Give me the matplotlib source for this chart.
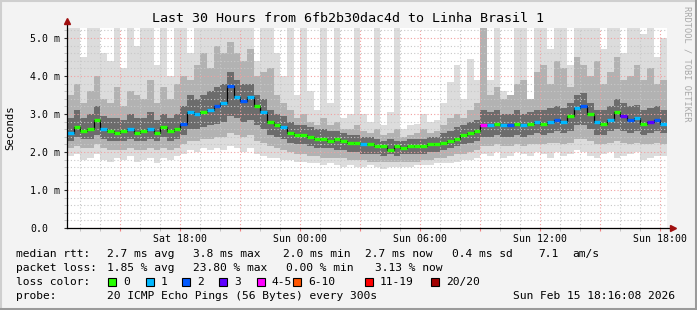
import matplotlib
matplotlib.use("Agg")
import matplotlib.pyplot as plt
import numpy as np
from matplotlib.patches import Rectangle
from matplotlib.lines import Line2D

# 20-minute columns, Sat 12:21 .. Sun 18:21 (hours since Sat 00:00)
start_hour = 12.35
step_hours = 1.0 / 3.0

# median rtt (ms)
median = [2.50, 2.65, 2.55, 2.60, 2.85, 2.60, 2.55, 2.50, 2.55, 2.60,
          2.50, 2.55, 2.60, 2.50, 2.65, 2.55, 2.60, 2.75, 3.05, 3.00,
          3.05, 3.10, 3.20, 3.30, 3.75, 3.45, 3.35, 3.45, 3.20, 3.05,
          2.80, 2.70, 2.65, 2.50, 2.45, 2.45, 2.40, 2.35, 2.35, 2.30,
          2.35, 2.30, 2.25, 2.25, 2.20, 2.20, 2.15, 2.15, 2.05, 2.15,
          2.10, 2.15, 2.15, 2.15, 2.20, 2.20, 2.25, 2.30, 2.35, 2.45,
          2.50, 2.55, 2.70, 2.70, 2.75, 2.70, 2.70, 2.75, 2.70, 2.75,
          2.80, 2.75, 2.80, 2.85, 2.80, 2.95, 3.15, 3.20, 3.00, 2.80,
          2.75, 2.85, 3.05, 2.95, 2.85, 2.90, 2.75, 2.80, 2.85, 2.75]

# lost pings out of 20
loss = [1, 0, 0, 0, 0, 1, 0, 0, 0, 1,
        0, 0, 1, 0, 0, 0, 0, 2, 1, 1,
        0, 1, 2, 1, 2, 1, 2, 1, 0, 1,
        0, 0, 1, 0, 0, 0, 0, 0, 0, 0,
        0, 0, 0, 0, 1, 0, 0, 0, 0, 0,
        0, 0, 0, 0, 0, 0, 0, 0, 0, 0,
        0, 0, 4, 1, 0, 1, 2, 0, 1, 0,
        1, 0, 1, 2, 1, 0, 1, 2, 0, 1,
        0, 1, 0, 3, 2, 1, 0, 3, 2, 1]

# smoke: sorted ping distribution per column (ms)
smoke_max = [5.5, 5.5, 4.5, 5.5, 5.5, 4.6, 4.4, 5.5, 4.2, 5.5,
             4.8, 5.5, 5.5, 4.3, 5.5, 4.0, 5.5,
             5.5, 4.6, 5.5, 5.5, 5.5, 5.5, 5.5, 5.5, 5.5, 5.5,
             5.5, 4.4, 5.5, 5.5, 4.6, 4.0,
             5.5, 3.5, 5.5, 3.6, 3.1, 5.5, 3.3, 5.5, 2.9, 3.0,
             5.5, 3.0, 2.8, 5.5, 2.7, 3.05, 5.5, 2.6, 2.7, 2.75,
             3.0, 2.8, 2.85, 3.3, 3.85, 4.3, 3.4, 4.45,
             3.9, 5.5, 3.9, 5.5, 3.6, 3.5, 5.5, 5.5, 3.4, 5.5,
             5.5, 4.7, 5.5, 5.5, 4.3, 5.5, 5.5, 5.5, 5.5, 4.7,
             5.5, 5.5, 4.6, 5.5, 5.5, 5.1, 5.5, 4.5, 5.0]
smoke_q90 = [3.5, 3.8, 3.3, 3.6, 4.0, 3.4, 3.3, 3.7, 3.2, 3.6,
             3.5, 3.4, 3.9, 3.3, 3.7, 3.4, 3.8,
             4.0, 3.9, 4.3, 4.6, 4.2, 4.8, 4.6, 4.9, 4.6, 4.4,
             4.7, 4.0, 4.1, 4.2, 3.5, 3.3,
             3.1, 2.9, 3.0, 2.8, 2.7, 2.9, 2.7, 2.8, 2.6, 2.6,
             2.7, 2.55, 2.5, 2.6, 2.45, 2.5, 2.6, 2.4, 2.45, 2.5,
             2.6, 2.5, 2.55, 2.7, 2.9, 3.0, 2.9, 3.1,
             3.3, 5.5, 3.5, 3.7, 3.4, 3.5, 3.8, 3.9, 3.4, 4.1,
             4.3, 3.8, 4.4, 4.2, 3.7, 4.5, 4.3, 4.0, 4.4, 3.8,
             4.1, 4.5, 3.9, 4.0, 4.3, 3.9, 4.2, 3.8, 3.9]
smoke_q75 = [2.9, 3.1, 2.9, 3.0, 3.2, 2.95, 2.9, 2.9, 2.85, 3.0,
             2.9, 2.9, 3.05, 2.85, 3.0, 2.9, 3.0,
             3.2, 3.5, 3.4, 3.5, 3.6, 3.7, 3.8, 4.1, 3.9, 3.8,
             3.8, 3.5, 3.4, 3.1, 3.0, 2.95,
             2.8, 2.7, 2.7, 2.65, 2.6, 2.6, 2.55, 2.55, 2.5, 2.45,
             2.45, 2.4, 2.4, 2.35, 2.3, 2.35, 2.3, 2.3, 2.35, 2.35,
             2.35, 2.4, 2.4, 2.5, 2.55, 2.65, 2.7, 2.8,
             2.85, 3.1, 3.05, 3.1, 3.0, 3.0, 3.1, 3.0, 3.05, 3.1,
             3.1, 3.15, 3.2, 3.15, 3.3, 3.5, 3.55, 3.3, 3.1, 3.1,
             3.2, 3.4, 3.3, 3.2, 3.25, 3.1, 3.15, 3.2, 3.1]
smoke_q25 = [2.3, 2.4, 2.35, 2.35, 2.45, 2.35, 2.3, 2.3, 2.3, 2.35,
             2.3, 2.3, 2.35, 2.3, 2.4, 2.3, 2.35,
             2.45, 2.6, 2.6, 2.65, 2.7, 2.75, 2.8, 2.95, 2.9, 2.8,
             2.85, 2.7, 2.6, 2.45, 2.4, 2.35,
             2.25, 2.2, 2.2, 2.15, 2.1, 2.1, 2.1, 2.05, 2.05, 2.0,
             2.0, 1.95, 1.95, 1.95, 1.9, 1.95, 1.9, 1.95, 1.95, 1.95,
             1.95, 2.0, 2.0, 2.05, 2.1, 2.15, 2.2, 2.25,
             2.3, 2.4, 2.4, 2.45, 2.4, 2.4, 2.45, 2.4, 2.45, 2.5,
             2.45, 2.5, 2.55, 2.5, 2.55, 2.7, 2.7, 2.6, 2.45, 2.45,
             2.55, 2.6, 2.55, 2.5, 2.55, 2.45, 2.5, 2.55, 2.5]
smoke_q10 = [2.1, 2.15, 2.1, 2.1, 2.2, 2.1, 2.05, 2.05, 2.05, 2.1,
             2.05, 2.05, 2.1, 2.05, 2.1, 2.05, 2.1,
             2.2, 2.3, 2.3, 2.35, 2.35, 2.4, 2.4, 2.5, 2.45, 2.4,
             2.45, 2.3, 2.25, 2.15, 2.1, 2.05,
             2.0, 1.95, 1.95, 1.9, 1.9, 1.85, 1.85, 1.85, 1.85, 1.8,
             1.8, 1.8, 1.75, 1.75, 1.75, 1.75, 1.75, 1.75, 1.75, 1.75,
             1.8, 1.8, 1.85, 1.85, 1.9, 1.95, 1.95, 2.0,
             2.05, 2.15, 2.15, 2.2, 2.15, 2.15, 2.2, 2.15, 2.2, 2.2,
             2.2, 2.25, 2.25, 2.2, 2.25, 2.35, 2.35, 2.3, 2.2, 2.2,
             2.25, 2.3, 2.25, 2.2, 2.25, 2.2, 2.2, 2.25, 2.2]
smoke_min = [1.9, 1.95, 1.8, 1.85, 1.95, 1.8, 1.75, 1.85, 1.8, 1.9,
             1.75, 1.8, 1.85, 1.7, 1.85, 1.8, 1.9,
             1.95, 2.05, 2.0, 2.1, 2.05, 2.1, 2.05, 2.15, 2.1, 2.0,
             2.1, 1.95, 1.9, 1.85, 1.85, 1.8,
             1.8, 1.75, 1.75, 1.7, 1.7, 1.65, 1.7, 1.65, 1.6, 1.65,
             1.6, 1.6, 1.65, 1.6, 1.55, 1.6, 1.6, 1.6, 1.6, 1.65,
             1.65, 1.65, 1.7, 1.7, 1.7, 1.75, 1.8, 1.8,
             1.85, 1.95, 1.9, 2.0, 1.85, 1.9, 2.0, 1.95, 1.9, 2.0,
             1.95, 1.85, 2.0, 1.9, 1.95, 2.05, 2.0, 1.9, 1.85, 1.95,
             2.0, 1.85, 1.9, 1.95, 2.0, 1.8, 1.85, 1.9, 1.9]

loss_bins = [(0, "0", "#26ff00"), (1, "1", "#00b8ff"), (2, "2", "#0059ff"),
             (3, "3", "#5e00ff"), (5, "4-5", "#ff00ff"), (10, "6-10", "#ff5500"),
             (19, "11-19", "#ff0000"), (20, "20/20", "#a00000")]

x_tick_hours = [15, 18, 21, 24, 27, 30, 33, 36, 39, 42]
x_tick_labels = ["", "Sat 18:00", "", "Sun 00:00", "", "Sun 06:00",
                 "", "Sun 12:00", "", "Sun 18:00"]
y_ticks = [0, 1, 2, 3, 4, 5]
y_tick_labels = ["0.0", "1.0 m", "2.0 m", "3.0 m", "4.0 m", "5.0 m"]

n = len(median)
for arr in (loss, smoke_max, smoke_q90, smoke_q75, smoke_q25, smoke_q10, smoke_min):
    assert len(arr) == n, len(arr)

W, H = 697, 310
MONO = "DejaVu Sans Mono"
fig = plt.figure(figsize=(W / 100, H / 100), dpi=100, facecolor="#f3f3f3")


def fx(x):
    return x / W


def fy(y):
    return 1 - y / H


ax = fig.add_axes([fx(67), fy(228), 600 / W, 200 / H])
ax.set_facecolor("white")

edges = start_hour + np.arange(n + 1) * step_hours

# smoke layers
ax.stairs(smoke_max, edges, baseline=smoke_min, fill=True, color="#dcdcdc", lw=0, zorder=1)
ax.stairs(smoke_q90, edges, baseline=smoke_q10, fill=True, color="#b2b2b2", lw=0, zorder=1.1)
ax.stairs(smoke_q75, edges, baseline=smoke_q25, fill=True, color="#6c6c6c", lw=0, zorder=1.2)


# median line coloured by loss
def loss_color(v):
    for lim, _, c in loss_bins:
        if v <= lim:
            return c
    return loss_bins[-1][2]


ax.stairs(median, edges, baseline=None, color="black", lw=0.9, zorder=3)
ax.hlines(median, edges[:-1], edges[1:], colors=[loss_color(v) for v in loss],
          lw=2.4, zorder=4)

ax.set_xlim(start_hour, start_hour + 30)
ax.set_ylim(0, 200 / 38)

ax.set_xticks(x_tick_hours)
ax.set_xticklabels(x_tick_labels, fontfamily=MONO, fontsize=7.1)
ax.set_xticks(np.arange(13, 43, 1), minor=True)
ax.set_yticks(y_ticks)
ax.set_yticklabels(y_tick_labels, fontfamily=MONO, fontsize=7.1, ha="left")
ax.set_yticks(np.arange(0, 5.3, 0.2), minor=True)

ax.tick_params(axis="x", which="major", length=2, color="#f08080", pad=2.5)
ax.tick_params(axis="x", which="minor", length=2, color="#bbbbbb")
ax.tick_params(axis="y", which="major", length=2, color="#333333", pad=24.6)
ax.tick_params(axis="y", which="minor", length=2, color="#bbbbbb")

ax.set_axisbelow(False)
ax.grid(which="major", color="#f2a0a0", ls=(0, (1, 2)), lw=0.8)
ax.grid(which="minor", color="#c8c8c8", ls=(0, (1, 2)), lw=0.8)
for s in ax.spines.values():
    s.set_visible(False)

# axis lines with arrows
ax.plot([0, 0], [0, 1.035], transform=ax.transAxes, clip_on=False, color="black", lw=0.9, zorder=5)
ax.plot([0, 1.01], [0, 0], transform=ax.transAxes, clip_on=False, color="black", lw=0.9, zorder=5)
ax.plot([0], [1.035], marker="^", ms=4.5, color="#a01010", transform=ax.transAxes, clip_on=False, zorder=6)
ax.plot([1.01], [0], marker=">", ms=4.5, color="#a01010", transform=ax.transAxes, clip_on=False, zorder=6)

# title and labels
fig.text(fx(348), fy(19), "Last 30 Hours from 6fb2b30dac4d to Linha Brasil 1",
         ha="center", va="center", fontfamily=MONO, fontsize=9.6)
fig.text(fx(10), fy(128), "Seconds", rotation=90, ha="center", va="center",
         fontfamily=MONO, fontsize=7.7)
fig.text(fx(687), fy(6), "RRDTOOL / TOBI OETIKER", rotation=270, ha="center", va="top",
         fontfamily=MONO, fontsize=6.2, color="#a8a8a8")

# legend
LF = 8.1
rows = [
    (254, [(16, "median rtt:"), (107, "2.7 ms avg"), (193, "3.8 ms max"), (283, "2.0 ms min"),
           (365, "2.7 ms now"), (452, "0.4 ms sd"), (538, "7.1"), (572, "am/s")]),
    (268, [(16, "packet loss:"), (107, "1.85 % avg"), (193, "23.80 % max"),
           (286, "0.00 % min"), (375, "3.13 % now")]),
    (282, [(16, "loss color:")]),
    (296, [(16, "probe:"), (107, "20 ICMP Echo Pings (56 Bytes) every 300s"),
           (513, "Sun Feb 15 18:16:08 2026")]),
]
for y, items in rows:
    for x, t in items:
        fig.text(fx(x), fy(y), t, ha="left", va="center", fontfamily=MONO, fontsize=LF)

box_x = [108, 146, 182, 219, 257, 293, 365, 431]
for bx, (_, lab, col) in zip(box_x, loss_bins):
    fig.patches.append(Rectangle((fx(bx), fy(286)), 8 / W, 8 / H, transform=fig.transFigure,
                                 facecolor=col, edgecolor="black", lw=0.8))
    fig.text(fx(bx + 15), fy(282), lab, ha="left", va="center", fontfamily=MONO, fontsize=LF)

# frame shading
fig.add_artist(Line2D([0, 1], [fy(1), fy(1)], transform=fig.transFigure, color="#cfcfcf", lw=1.5))
fig.add_artist(Line2D([fx(1), fx(1)], [0, 1], transform=fig.transFigure, color="#cfcfcf", lw=1.5))
fig.add_artist(Line2D([0, 1], [fy(308.5), fy(308.5)], transform=fig.transFigure, color="#9a9a9a", lw=2.2))
fig.add_artist(Line2D([fx(695.5), fx(695.5)], [0, 1], transform=fig.transFigure, color="#9a9a9a", lw=2.2))

fig.savefig("out.png", dpi=100, facecolor=fig.get_facecolor())
